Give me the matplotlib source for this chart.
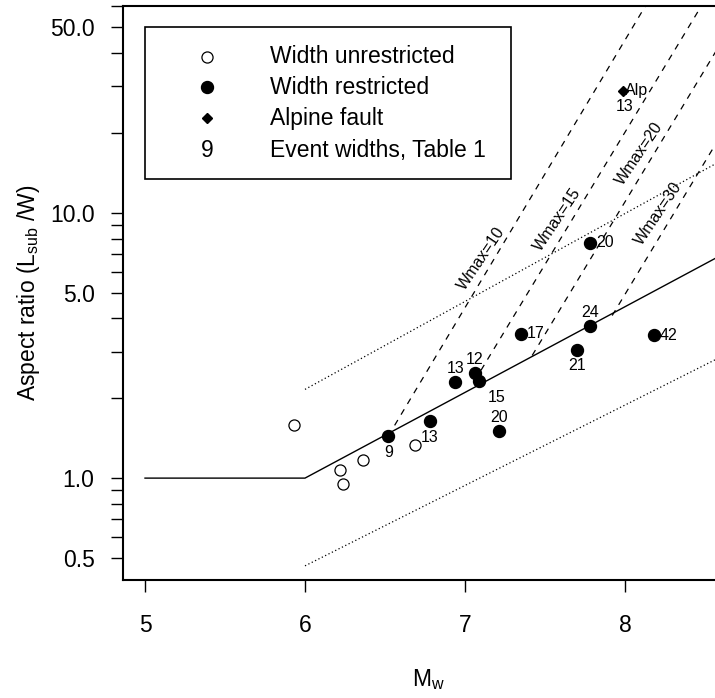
import matplotlib.pyplot as plt
from matplotlib.patches import Rectangle

plt.rcParams['font.family'] = ['Liberation Sans', 'DejaVu Sans']
plt.rcParams['mathtext.default'] = 'regular'

# width unrestricted (open circles)
open_mw = [5.93, 6.22, 6.24, 6.36, 6.69]
open_ratio = [1.59, 1.07, 0.95, 1.17, 1.33]

# width restricted (filled circles), with event widths from Table 1
rest_mw = [6.52, 6.78, 6.94, 7.06, 7.09, 7.21, 7.35, 7.70, 7.78, 8.18, 7.78]
rest_ratio = [1.44, 1.64, 2.30, 2.50, 2.32, 1.51, 3.50, 3.05, 3.75, 3.45, 7.70]
rest_width = ['9', '13', '13', '12', '15', '20', '17', '21', '24', '42', '20']
rest_pos = ['below', 'below', 'above', 'above', 'below right', 'above',
            'right', 'below', 'above', 'right', 'right']

# Alpine fault
alp_mw = [7.985]
alp_ratio = [28.8]
alp_width = '13'

# scaling line and its bounds
fit_mw = [5.0, 6.0, 8.68]
fit_ratio = [1.0, 1.0, 7.34]
upper_mw = [6.0, 8.68]
upper_ratio = [2.16, 16.7]
lower_mw = [6.0, 8.68]
lower_ratio = [0.467, 3.03]

# Wmax lines
wmax_values = [10, 15, 20, 30]
wmax_mw = [[6.52, 8.14], [7.10, 8.49], [7.42, 8.70], [7.92, 8.70]]
wmax_ratio = [[1.44, 62.0], [2.55, 62.0], [2.90, 55.0], [4.10, 24.7]]
wmax_label_mw = [7.10, 7.58, 8.09, 8.21]
wmax_label_ratio = [6.72, 9.43, 16.7, 9.93]

yticks = [0.5, 0.6, 0.7, 0.8, 0.9, 1, 2, 3, 4, 5, 6, 7, 8, 9,
          10, 20, 30, 40, 50, 60]
ylabels_shown = {0.5: '0.5', 1: '1.0', 5: '5.0', 10: '10.0', 50: '50.0'}

legend_labels = ['Width unrestricted', 'Width restricted', 'Alpine fault',
                 'Event widths, Table 1']

FS = 16.5
SMALL = 11.5

fig = plt.figure(figsize=(7.15, 6.98), dpi=100)
ax = fig.add_axes([123 / 715, 118 / 698, 610 / 715, 574 / 698])
ax.set_yscale('log')
ax.set_xlim(4.8625, 8.675)
ax.set_ylim(0.413, 60.2)

# lines
ax.plot(fit_mw, fit_ratio, color='black', lw=1.0)
ax.plot(upper_mw, upper_ratio, color='black', lw=0.9, ls=(0, (1, 2)))
ax.plot(lower_mw, lower_ratio, color='black', lw=0.9, ls=(0, (1, 2)))
for w, xs, ys, lx, ly in zip(wmax_values, wmax_mw, wmax_ratio,
                             wmax_label_mw, wmax_label_ratio):
    ax.plot(xs, ys, color='black', lw=0.9, ls=(0, (5, 5)))
    ax.text(lx, ly, 'Wmax=%d' % w, fontsize=SMALL, rotation=56,
            ha='center', va='center', rotation_mode='anchor')

# points
ax.plot(open_mw, open_ratio, 'o', mfc='white', mec='black', mew=0.9, ms=8)
ax.plot(rest_mw, rest_ratio, 'o', color='black', ms=8.6)
ax.plot(alp_mw, alp_ratio, 'D', color='black', ms=5.5)

offsets = {'below': (0, -11.5, 'center'),
           'above': (0, 9.5, 'center'),
           'right': (4.5, 0, 'left'),
           'below right': (12.7, -11.5, 'center')}
for x, y, t, p in zip(rest_mw, rest_ratio, rest_width, rest_pos):
    dx, dy, ha = offsets[p]
    ax.annotate(t, (x, y), xytext=(dx, dy), textcoords='offset points',
                ha=ha, va='center', fontsize=SMALL)
ax.annotate('Alp', (alp_mw[0], alp_ratio[0]), xytext=(2, 0),
            textcoords='offset points', ha='left', va='center', fontsize=SMALL)
ax.annotate(alp_width, (alp_mw[0], alp_ratio[0]), xytext=(1.7, -11),
            textcoords='offset points', ha='center', va='center', fontsize=SMALL)

# axes styling
for s in ax.spines.values():
    s.set_linewidth(1.5)
ax.set_xticks([5, 6, 7, 8])
ax.set_xticklabels(['5', '6', '7', '8'])
ax.set_yticks(yticks)
ax.set_yticklabels([ylabels_shown.get(v, '') for v in yticks])
ax.minorticks_off()
ax.tick_params(axis='both', direction='out', length=8.5, width=1.0,
               labelsize=FS)
ax.tick_params(axis='y', pad=12)
ax.tick_params(axis='x', pad=16)
ax.set_xlabel('M$_w$', fontsize=FS, labelpad=22)
ax.set_ylabel('Aspect ratio (L$_{sub}$ /W)', fontsize=FS, labelpad=6)

# legend box drawn by hand, R style
ax.add_patch(Rectangle((0.0361, 0.6986), 0.636 - 0.0361, 0.9634 - 0.6986,
                       transform=ax.transAxes, fill=False, lw=1.2,
                       edgecolor='black', zorder=5))
rows = [0.9117, 0.8584, 0.8043, 0.7491]
mx, tx = 0.1377, 0.241
ax.plot([mx], [rows[0]], 'o', mfc='white', mec='black', mew=0.9, ms=8,
        transform=ax.transAxes)
ax.plot([mx], [rows[1]], 'o', color='black', ms=8.6, transform=ax.transAxes)
ax.plot([mx], [rows[2]], 'D', color='black', ms=5.5, transform=ax.transAxes)
ax.text(mx, rows[3], '9', transform=ax.transAxes, fontsize=FS,
        ha='center', va='center')
for r, lab in zip(rows, legend_labels):
    ax.text(tx, r, lab, transform=ax.transAxes, fontsize=FS,
            ha='left', va='center')

plt.savefig('out.png', dpi=100)
